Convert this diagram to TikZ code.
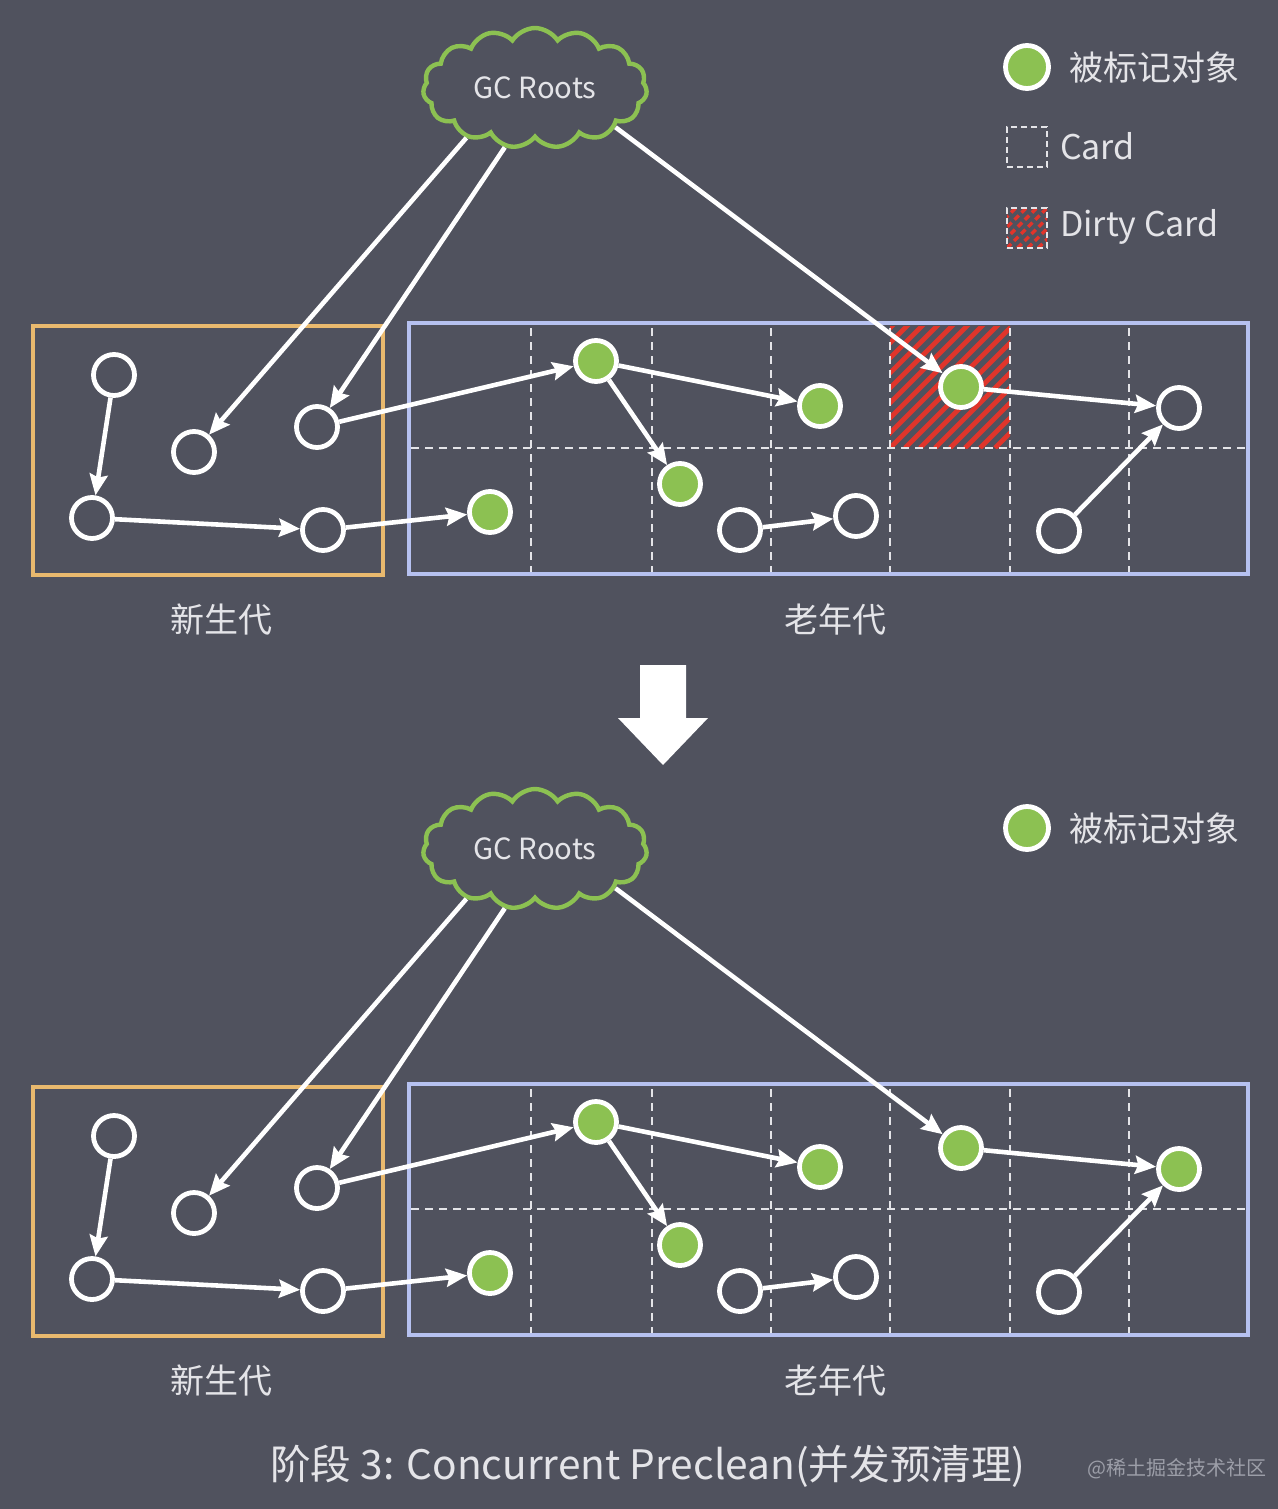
\documentclass[tikz,border=0pt]{standalone}
\usepackage{fontspec}
\setmainfont{Noto Sans CJK SC}
\usetikzlibrary{arrows.meta,shapes.symbols}
\definecolor{bgGray}{HTML}{50525E}
\definecolor{objGreen}{HTML}{8CC152}
\definecolor{youngOrange}{HTML}{E9B96E}
\definecolor{oldBlue}{HTML}{B6C1F0}
\definecolor{cardRed}{HTML}{E0352B}
\definecolor{textGray}{HTML}{E4E4E8}
\definecolor{markGray}{HTML}{9C9EA8}
\begin{document}
\begin{tikzpicture}[x=0.5pt,y=-0.5pt,
  obj/.style={circle,draw=white,line width=2.4pt,minimum size=20.5pt,inner sep=0pt,fill=bgGray},
  marked/.style={obj,fill=objGreen},
  ref/.style={draw=white,line width=2.3pt,-{Stealth[length=10.5pt,width=9pt,inset=1.5pt]}},
  root/.style={cloud,cloud puffs=15,cloud puff arc=115,aspect=2.1,draw=objGreen,line width=2.2pt,
    fill=bgGray,minimum width=112pt,minimum height=60pt,text=textGray,
    font=\fontsize{14.6}{16}\selectfont},
  youngbox/.style={draw=youngOrange,line width=2.2pt},
  oldbox/.style={draw=oldBlue,line width=2.2pt},
  cardline/.style={draw=textGray,line width=1pt,dash pattern=on 4pt off 3pt},
  dirty/.style 2 args={rectangle,inner sep=0pt,path picture={
    \foreach \s in {-10,...,10}
      \draw[cardRed,line width=#2]
        ([xshift=\s*#1]path picture bounding box.south west) -- ++(70pt,70pt);}},
  cardkey/.style={rectangle,draw=textGray,line width=1pt,dash pattern=on 3pt off 2pt,
    minimum size=20pt,inner sep=0pt},
  keytext/.style={text=textGray,font=\fontsize{17}{20}\selectfont},
  genlabel/.style={text=textGray,font=\fontsize{17}{20}\selectfont},
  title/.style={text=textGray,font=\fontsize{20.3}{24}\selectfont},
  sitemark/.style={text=markGray,font=\fontsize{10}{12}\selectfont}]
%width=1278px
%height=1509px
\useasboundingbox (0,0) rectangle (1278,1509);
\fill[bgGray] (0,0) rectangle (1278,1509);
% ---------- before ----------
% dirty card
\node[dirty={7.5pt}{2.4pt},minimum width=60pt,minimum height=61pt] (dirtya) at (950,387) {};
% cards
\draw[cardline] ( 531,328) -- ( 531,572);
\draw[cardline] ( 652,328) -- ( 652,572);
\draw[cardline] ( 771,328) -- ( 771,572);
\draw[cardline] ( 890,328) -- ( 890,572);
\draw[cardline] (1010,328) -- (1010,572);
\draw[cardline] (1129,328) -- (1129,572);
\draw[cardline] ( 411,448) -- (1246,448);
% generations
\draw[youngbox] (33,326) rectangle (383,575);
\draw[oldbox] (409,323) rectangle (1248,574);
\node[genlabel] (younglabela) at (221,620) {新生代};
\node[genlabel] (oldlabela) at (835,620) {老年代};
% objects
\node[root] (roota) at (535,88) {GC Roots};
\node[obj] (y1a) at ( 114,375) {};
\node[obj] (y2a) at ( 194,452) {};
\node[obj] (y3a) at ( 317,427) {};
\node[obj] (y4a) at (  92,518) {};
\node[obj] (y5a) at ( 323,530) {};
\node[marked] (o1a) at ( 490,512) {};
\node[marked] (o2a) at ( 596,361) {};
\node[marked] (o3a) at ( 820,406) {};
\node[marked] (o4a) at ( 680,484) {};
\node[obj] (o5a) at ( 740,530) {};
\node[obj] (o6a) at ( 856,516) {};
\node[marked] (o7a) at ( 961,387) {};
\node[obj] (o8a) at (1179,408) {};
\node[obj] (o9a) at (1059,531) {};
% references
\draw[ref] (roota.216) -- (y2a);
\draw[ref] (roota.243) -- (y3a);
\draw[ref] (roota.334) -- (o7a);
\draw[ref] (y1a) -- (y4a);
\draw[ref] (y4a) -- (y5a);
\draw[ref] (y5a) -- (o1a);
\draw[ref] (y3a) -- (o2a);
\draw[ref] (o2a) -- (o3a);
\draw[ref] (o2a) -- (o4a);
\draw[ref] (o5a) -- (o6a);
\draw[ref] (o7a) -- (o8a);
\draw[ref] (o9a) -- (o8a);
% legend
\node[marked,minimum size=21.5pt] (markkeya) at (1027,67) {};
\node[keytext,anchor=west] (marktexta) at (1062,67) {被标记对象};
\node[cardkey] (cardkeya) at (1027,147) {};
\node[keytext,anchor=west] (cardtexta) at (1053,146) {Card};
\node[dirty={5.2pt}{1.7pt},cardkey] (dirtykeya) at (1027,228) {};
\node[keytext,anchor=west] (dirtytexta) at (1053,227) {Dirty Card};
% step arrow
\fill[white] (640,665) -- (686,665) -- (686,718) -- (708,718) -- (663,765)
  -- (618,718) -- (640,718) -- cycle;
% ---------- after ----------
\begin{scope}[yshift=-380.5pt]
% cards
\draw[cardline] ( 531,328) -- ( 531,572);
\draw[cardline] ( 652,328) -- ( 652,572);
\draw[cardline] ( 771,328) -- ( 771,572);
\draw[cardline] ( 890,328) -- ( 890,572);
\draw[cardline] (1010,328) -- (1010,572);
\draw[cardline] (1129,328) -- (1129,572);
\draw[cardline] ( 411,448) -- (1246,448);
% generations
\draw[youngbox] (33,326) rectangle (383,575);
\draw[oldbox] (409,323) rectangle (1248,574);
\node[genlabel] (younglabelb) at (221,620) {新生代};
\node[genlabel] (oldlabelb) at (835,620) {老年代};
% objects
\node[root] (rootb) at (535,88) {GC Roots};
\node[obj] (y1b) at ( 114,375) {};
\node[obj] (y2b) at ( 194,452) {};
\node[obj] (y3b) at ( 317,427) {};
\node[obj] (y4b) at (  92,518) {};
\node[obj] (y5b) at ( 323,530) {};
\node[marked] (o1b) at ( 490,512) {};
\node[marked] (o2b) at ( 596,361) {};
\node[marked] (o3b) at ( 820,406) {};
\node[marked] (o4b) at ( 680,484) {};
\node[obj] (o5b) at ( 740,530) {};
\node[obj] (o6b) at ( 856,516) {};
\node[marked] (o7b) at ( 961,387) {};
\node[marked] (o8b) at (1179,408) {};
\node[obj] (o9b) at (1059,531) {};
% references
\draw[ref] (rootb.216) -- (y2b);
\draw[ref] (rootb.243) -- (y3b);
\draw[ref] (rootb.334) -- (o7b);
\draw[ref] (y1b) -- (y4b);
\draw[ref] (y4b) -- (y5b);
\draw[ref] (y5b) -- (o1b);
\draw[ref] (y3b) -- (o2b);
\draw[ref] (o2b) -- (o3b);
\draw[ref] (o2b) -- (o4b);
\draw[ref] (o5b) -- (o6b);
\draw[ref] (o7b) -- (o8b);
\draw[ref] (o9b) -- (o8b);
% legend
\node[marked,minimum size=21.5pt] (markkeyb) at (1027,67) {};
\node[keytext,anchor=west] (marktextb) at (1062,67) {被标记对象};
\end{scope}
% caption
\node[title] (titleb) at (648,1466) {阶段 3: Concurrent Preclean(并发预清理)};
\node[sitemark] (markb) at (1177,1469) {@稀土掘金技术社区};
\end{tikzpicture}
\end{document}
